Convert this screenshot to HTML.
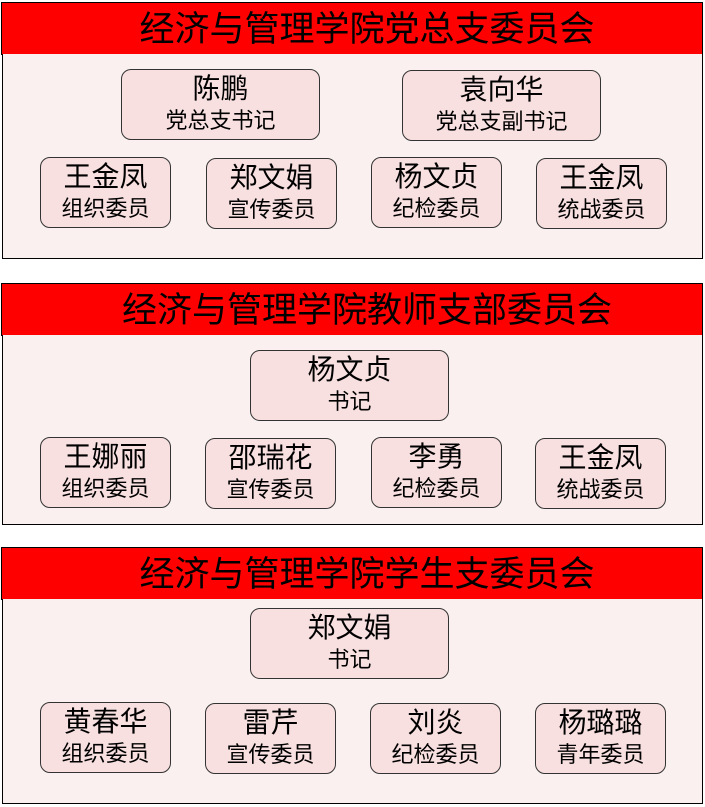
<!DOCTYPE html>
<html><head><meta charset="utf-8"><style>
body{margin:0;width:705px;height:807px;background:#fff;position:relative;font-family:"Liberation Sans","Noto Sans CJK SC",sans-serif;overflow:hidden}
.h{position:absolute;left:1px;width:670px;padding-left:30px;height:51px;background:#ff0000;border:1px solid #000;color:#000;font-size:35px;line-height:53px;text-align:center;box-sizing:content-box}
.b{position:absolute;left:2px;width:699px;background:#faf0f0;border:1px solid #000;border-top:none}
.n{position:absolute;background:#f9e0e0;border:1px solid #333;border-radius:10px;text-align:center;height:68px;box-sizing:border-box}
.n .a{font-size:28px;line-height:28px;margin-top:5px}
.n .r{font-size:22px;line-height:22px;margin-top:7px}
</style></head><body>
<div class="h" style="top:2px">经济与管理学院党总支委员会</div>
<div class="b" style="top:54px;height:204px"></div>
<div class="h" style="top:283px">经济与管理学院教师支部委员会</div>
<div class="b" style="top:335px;height:189px"></div>
<div class="h" style="top:547px">经济与管理学院学生支委员会</div>
<div class="b" style="top:599px;height:204px"></div>

<div class="n" style="left:121px;top:69px;width:199px;height:71px"><div class="a">陈鹏</div><div class="r">党总支书记</div></div>
<div class="n" style="left:402px;top:70px;width:199px;height:71px"><div class="a">袁向华</div><div class="r">党总支副书记</div></div>
<div class="n" style="left:40px;top:157px;width:131px;height:71px"><div class="a">王金凤</div><div class="r">组织委员</div></div>
<div class="n" style="left:206px;top:158px;width:131px;height:71px"><div class="a">郑文娟</div><div class="r">宣传委员</div></div>
<div class="n" style="left:371px;top:157px;width:131px;height:71px"><div class="a">杨文贞</div><div class="r">纪检委员</div></div>
<div class="n" style="left:536px;top:158px;width:131px;height:71px"><div class="a">王金凤</div><div class="r">统战委员</div></div>

<div class="n" style="left:250px;top:350px;width:199px;height:71px"><div class="a">杨文贞</div><div class="r">书记</div></div>
<div class="n" style="left:40px;top:437px;width:131px;height:71px"><div class="a">王娜丽</div><div class="r">组织委员</div></div>
<div class="n" style="left:205px;top:438px;width:131px;height:71px"><div class="a">邵瑞花</div><div class="r">宣传委员</div></div>
<div class="n" style="left:371px;top:437px;width:131px;height:71px"><div class="a">李勇</div><div class="r">纪检委员</div></div>
<div class="n" style="left:535px;top:438px;width:131px;height:71px"><div class="a">王金凤</div><div class="r">统战委员</div></div>

<div class="n" style="left:250px;top:608px;width:199px;height:71px"><div class="a">郑文娟</div><div class="r">书记</div></div>
<div class="n" style="left:40px;top:702px;width:131px;height:71px"><div class="a">黄春华</div><div class="r">组织委员</div></div>
<div class="n" style="left:205px;top:703px;width:131px;height:71px"><div class="a">雷芹</div><div class="r">宣传委员</div></div>
<div class="n" style="left:370px;top:703px;width:131px;height:71px"><div class="a">刘炎</div><div class="r">纪检委员</div></div>
<div class="n" style="left:535px;top:703px;width:131px;height:71px"><div class="a">杨璐璐</div><div class="r">青年委员</div></div>
</body></html>
